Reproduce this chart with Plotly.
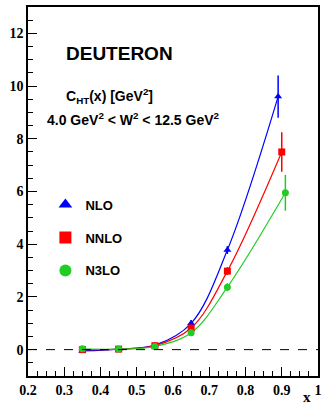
import plotly.graph_objects as go

x_nlo = [0.35, 0.45, 0.55, 0.65, 0.75, 0.89]
y_nlo = [-0.05, 0.02, 0.17, 1.0, 3.78, 9.6]
e_nlo = [0.05, 0.05, 0.08, 0.12, 0.15, 0.8]

x_nnlo = [0.35, 0.45, 0.55, 0.65, 0.75, 0.90]
y_nnlo = [0.0, 0.02, 0.15, 0.82, 2.98, 7.5]
e_nnlo = [0.05, 0.05, 0.08, 0.12, 0.15, 0.75]

x_n3lo = [0.35, 0.45, 0.55, 0.65, 0.75, 0.91]
y_n3lo = [0.03, 0.02, 0.12, 0.64, 2.37, 5.95]
e_n3lo = [0.05, 0.05, 0.08, 0.12, 0.15, 0.68]

x_ticks = [0.2, 0.3, 0.4, 0.5, 0.6, 0.7, 0.8, 0.9, 1.0]
x_ticklabels = ["0.2", "0.3", "0.4", "0.5", "0.6", "0.7", "0.8", "0.9", "1"]
y_ticks = [0, 2, 4, 6, 8, 10, 12]
y_ticklabels = ["0", "2", "4", "6", "8", "10", "12"]

names = ["NLO", "NNLO", "N3LO"]
colors = ["#0000ff", "#ff0000", "#22cc22"]
symbols = ["triangle-up", "square", "circle"]

fig = go.Figure()
series = [(x_nlo, y_nlo, e_nlo), (x_nnlo, y_nnlo, e_nnlo), (x_n3lo, y_n3lo, e_n3lo)]
for (xs, ys, es), n, c, s in zip(series, names, colors, symbols):
    fig.add_trace(go.Scatter(x=xs, y=ys, mode="lines", line=dict(color=c, width=1.2, shape="spline", smoothing=1.0),
                             showlegend=False, hoverinfo="skip"))
for (xs, ys, es), n, c, s in zip(series, names, colors, symbols):
    fig.add_trace(go.Scatter(x=xs, y=ys, mode="markers", name="<b>" + n + "</b>", legendgroup=n,
                             marker=dict(color=c, symbol=s, size=7),
                             error_y=dict(type="data", array=es, color=c, thickness=1.5, width=0)))

fig.add_hline(y=0, line=dict(color="black", width=1, dash="dash"))

tickfont = dict(family="Liberation Serif", size=14, color="black")
fig.update_xaxes(range=[0.2, 1.0], tickmode="array", tickvals=x_ticks,
                 ticktext=["<b>" + t + "</b>" for t in x_ticklabels],
                 ticks="inside", ticklen=9, tickwidth=1,
                 tickcolor="black", showline=True, linecolor="black", linewidth=1.5, mirror=True,
                 showgrid=False, zeroline=False, tickfont=tickfont,
                 minor=dict(tick0=0.2, dtick=0.025, ticks="inside", ticklen=5, tickcolor="black", tickwidth=1))
fig.update_yaxes(range=[-1, 13], tickmode="array", tickvals=y_ticks,
                 ticktext=["<b>" + t + "</b>" for t in y_ticklabels],
                 ticks="inside", ticklen=9, tickwidth=1,
                 tickcolor="black", showline=True, linecolor="black", linewidth=1.5, mirror=True,
                 showgrid=False, zeroline=False, tickfont=tickfont,
                 minor=dict(tick0=0, dtick=0.5, ticks="inside", ticklen=5, tickcolor="black", tickwidth=1))

ann_font = dict(family="Liberation Sans", color="black")
fig.add_annotation(xref="paper", yref="paper", x=0.125, y=0.875, xanchor="left", yanchor="middle",
                   text="<b>DEUTERON</b>", showarrow=False, font=dict(size=19, **ann_font))
fig.add_annotation(xref="paper", yref="paper", x=0.125, y=0.758, xanchor="left", yanchor="middle",
                   text="<b>C<sub>HT</sub>(x) [GeV<sup>2</sup>]</b>", showarrow=False, font=dict(size=14, **ann_font))
fig.add_annotation(xref="paper", yref="paper", x=0.06, y=0.696, xanchor="left", yanchor="middle",
                   text="<b>4.0 GeV<sup>2</sup> &lt; W<sup>2</sup> &lt; 12.5 GeV<sup>2</sup></b>", showarrow=False,
                   font=dict(size=14, **ann_font))
fig.add_annotation(xref="paper", yref="paper", x=0.963, y=0, xanchor="center", yanchor="middle", yshift=-21,
                   text="<b>x</b>", showarrow=False, font=dict(family="Liberation Serif", size=15, color="black"))

fig.update_layout(width=324, height=407, margin=dict(l=28, r=2, t=7, b=31),
                  paper_bgcolor="white", plot_bgcolor="white",
                  legend=dict(x=0.06, y=0.505, xanchor="left", yanchor="top", bgcolor="rgba(0,0,0,0)",
                              tracegroupgap=13, font=dict(family="Liberation Sans", size=13, color="black"),
                              itemsizing="constant"),
                  showlegend=True)
fig.write_html("out.html")
